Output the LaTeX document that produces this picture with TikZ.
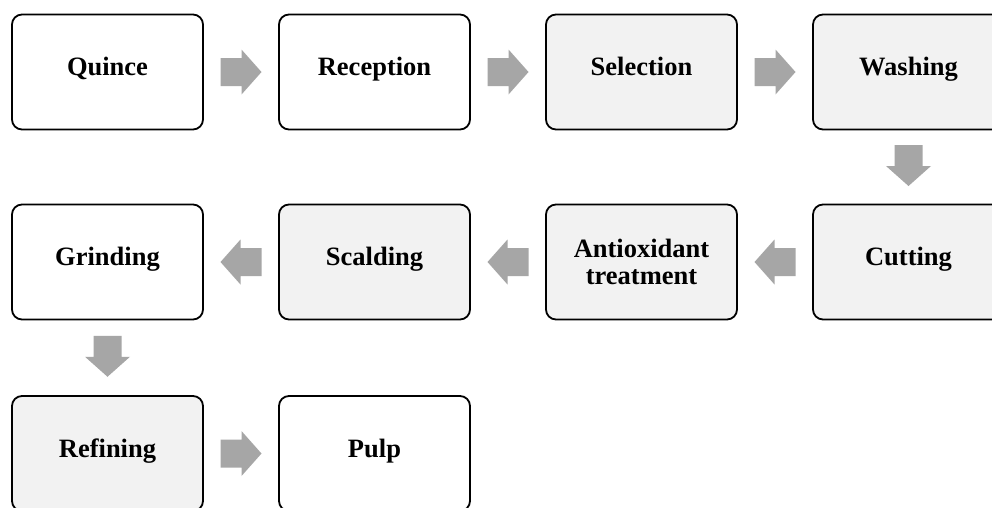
\documentclass[tikz,border=0pt]{standalone}
\usepackage{fontspec}
\setmainfont{Liberation Serif}
\usetikzlibrary{calc}
\definecolor{boxgray}{HTML}{F2F2F2}
\definecolor{arrowgray}{HTML}{A6A6A6}
\tikzset{
  stepbox/.style={draw=black, line width=1.8pt, rounded corners=10pt, minimum width=191pt, minimum height=115pt, inner sep=0pt, align=center, font=\bfseries\fontsize{26.5}{27}\selectfont},
  oneline/.style={text height=0.8em, text depth=0.1em},
  whitebox/.style={stepbox, fill=white},
  graybox/.style={stepbox, fill=boxgray},
  blockarrow/.pic={\fill[arrowgray] (-20.5,-14) -- (0.5,-14) -- (0.5,-22.5) -- (20.5,0) -- (0.5,22.5) -- (0.5,14) -- (-20.5,14) -- cycle;}
}
\begin{document}
\begin{tikzpicture}[x=1pt,y=-1pt]
\useasboundingbox (0,0) rectangle (992,507);
\clip (0,0) rectangle (992,507);
\fill[white] (0,0) rectangle (992,507);
\node[whitebox,oneline] (quince) at (107.5,72) {Quince};
\node[whitebox,oneline] (reception) at (374.5,72) {Reception};
\node[graybox,oneline] (selection) at (641.5,72) {Selection};
\node[graybox,oneline] (washing) at (908.5,72) {Washing};
\node[graybox,oneline] (cutting) at (908.5,262) {Cutting};
\node[graybox] (antiox) at (641.5,262) {Antioxidant\\treatment};
\node[graybox,oneline] (scalding) at (374.5,262) {Scalding};
\node[whitebox,oneline] (grinding) at (107.5,262) {Grinding};
\node[graybox,oneline] (refining) at (107.5,453.5) {Refining};
\node[whitebox,oneline] (pulp) at (374.5,453.5) {Pulp};
\pic at ($(quince.east)!0.5!(reception.west)$) {blockarrow};
\pic at ($(reception.east)!0.5!(selection.west)$) {blockarrow};
\pic at ($(selection.east)!0.5!(washing.west)$) {blockarrow};
\pic[rotate=-90] at ($(washing.south)!0.5!(cutting.north)+(0,-1.5)$) {blockarrow};
\pic[rotate=180] at ($(cutting.west)!0.5!(antiox.east)$) {blockarrow};
\pic[rotate=180] at ($(antiox.west)!0.5!(scalding.east)$) {blockarrow};
\pic[rotate=180] at ($(scalding.west)!0.5!(grinding.east)$) {blockarrow};
\pic[rotate=-90] at ($(grinding.south)!0.5!(refining.north)+(0,-1.5)$) {blockarrow};
\pic at ($(refining.east)!0.5!(pulp.west)$) {blockarrow};
\end{tikzpicture}
\end{document}
